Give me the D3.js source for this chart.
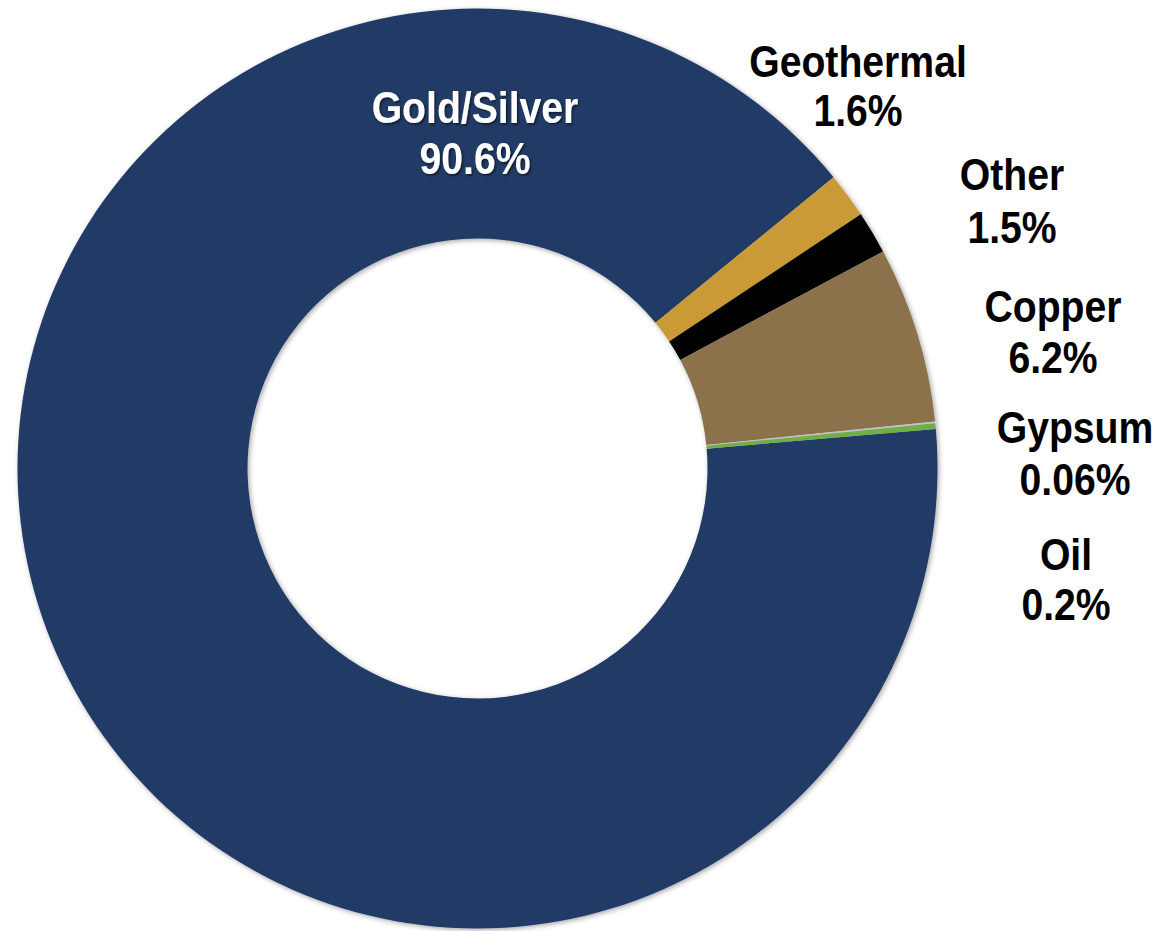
<!DOCTYPE html>
<html>
<head>
<meta charset="utf-8">
<script src="https://cdn.jsdelivr.net/npm/d3@7"></script>
<style>
  html, body { margin: 0; padding: 0; background: #fff; }
  svg { display: block; }
  text { font-family: "Liberation Sans", Arial, sans-serif; font-weight: bold; }
</style>
</head>
<body>
<svg id="chart" width="1165" height="931"></svg>
<script>
// ---- data ----
const categories = ["Gold/Silver", "Geothermal", "Other", "Copper", "Gypsum", "Oil"];
const values = [90.6, 1.6, 1.5, 6.2, 0.06, 0.2];
const valueLabels = ["90.6%", "1.6%", "1.5%", "6.2%", "0.06%", "0.2%"];
const colors = ["#213a66", "#c99a35", "#000000", "#8b724b", "#c3c3c3", "#6fae46"];

// ---- layout (label anchors, not data) ----
const labelX = [475, 858, 1012, 1053, 1075, 1066];
const labelY = [123, 77, 190, 322, 443, 570];
const lineStep = [51, 49, 53, 51, 52, 50];
const labelFill = ["#ffffff", "#000", "#000", "#000", "#000", "#000"];

const svg = d3.select("#chart");
const cx = 477.5, cy = 468.5, rOuter = 460, rInner = 230;

const defs = svg.append("defs");
const sh = defs.append("filter").attr("id", "shadow")
  .attr("x", "-10%").attr("y", "-10%").attr("width", "120%").attr("height", "120%");
sh.append("feDropShadow").attr("dx", 1.5).attr("dy", 1.5).attr("stdDeviation", 2.5)
  .attr("flood-color", "#000").attr("flood-opacity", 0.35);
const tsh = defs.append("filter").attr("id", "tshadow")
  .attr("x", "-10%").attr("y", "-20%").attr("width", "120%").attr("height", "140%");
tsh.append("feDropShadow").attr("dx", 1.5).attr("dy", 1.5).attr("stdDeviation", 1.2)
  .attr("flood-color", "#000").attr("flood-opacity", 0.6);

// Gold/Silver ends at ~50.7deg clockwise from 12 o'clock
const total = d3.sum(values);
const endFirst = 50.7 * Math.PI / 180;
const start = endFirst - (values[0] / total) * 2 * Math.PI + 2 * Math.PI;

const pie = d3.pie().sort(null).value(d => d)
  .startAngle(start).endAngle(start + 2 * Math.PI);
const arc = d3.arc().innerRadius(rInner).outerRadius(rOuter);

const g = svg.append("g").attr("transform", `translate(${cx},${cy})`)
  .attr("filter", "url(#shadow)");
g.selectAll("path").data(pie(values)).join("path")
  .attr("d", arc)
  .attr("fill", (d, i) => colors[i]);

// labels
const lg = svg.append("g");
categories.forEach((c, i) => {
  const t = lg.append("g")
    .attr("transform", `translate(${labelX[i]},${labelY[i]}) scale(0.89,1)`)
    .attr("filter", i === 0 ? "url(#tshadow)" : null);
  t.append("text").attr("text-anchor", "middle").attr("font-size", 44)
    .attr("fill", labelFill[i]).text(c);
  t.append("text").attr("text-anchor", "middle").attr("font-size", 44)
    .attr("y", lineStep[i]).attr("fill", labelFill[i]).text(valueLabels[i]);
});
</script>
</body>
</html>
